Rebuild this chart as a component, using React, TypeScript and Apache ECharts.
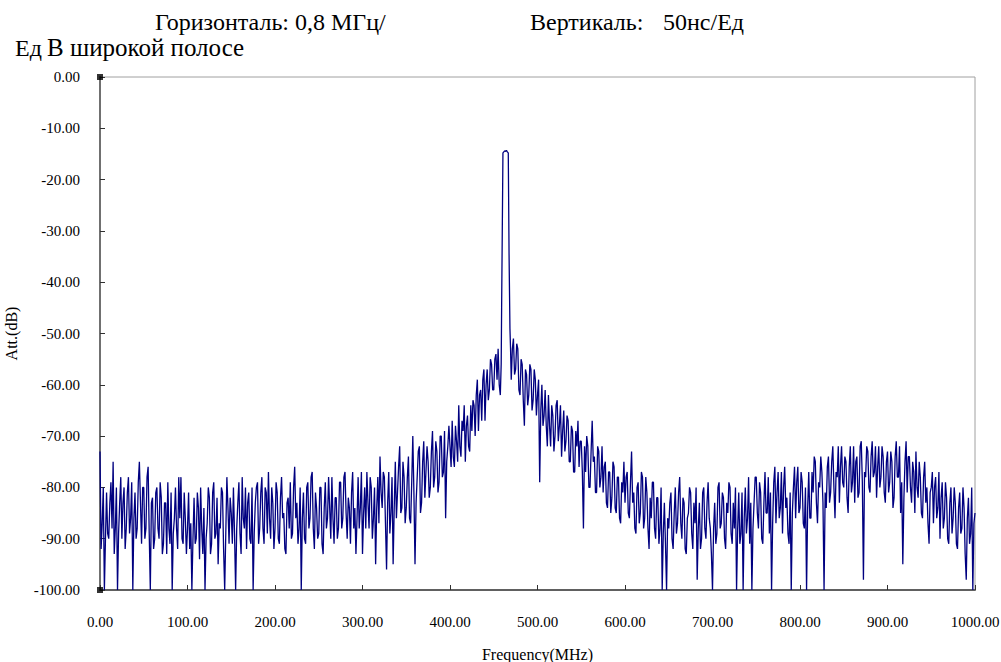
import React, { useEffect, useRef } from "react";
import * as echarts from "echarts";

// Tick values
const xTicks = [0, 100, 200, 300, 400, 500, 600, 700, 800, 900, 1000];
const yTicks = [0, -10, -20, -30, -40, -50, -60, -70, -80, -90, -100];

// Sampling grid (MHz)
const gridStep = 1.25;
const lowBandStart = 0;
const highBandStart = 470;

// Attenuation (dB), 0 .. 457.5 MHz, every 1.25 MHz (one line = 25 MHz)
const lowBandDb = [
  -73, -92, -87, -80, -100, -90, -81, -89, -90, -83, -79, -88, -75, -93, -88, -80, -100, -89, -83, -78,
  -90, -83, -80, -92, -88, -81, -78, -89, -86, -79, -100, -86, -81, -90, -88, -79, -75, -83, -91, -80,
  -80, -90, -88, -78, -76, -89, -100, -83, -82, -92, -90, -81, -80, -88, -90, -79, -82, -93, -91, -83,
  -83, -93, -79, -88, -91, -81, -100, -89, -86, -80, -88, -92, -78, -86, -78, -90, -91, -81, -86, -93,
  -88, -81, -92, -87, -100, -90, -82, -91, -90, -81, -84, -94, -80, -88, -93, -84, -100, -90, -87, -80,
  -82, -93, -91, -81, -79, -90, -89, -82, -95, -87, -88, -80, -81, -92, -100, -89, -78, -84, -91, -82,
  -85, -91, -80, -89, -100, -88, -83, -79, -89, -93, -78, -86, -88, -80, -92, -83, -81, -90, -91, -80,
  -100, -89, -83, -80, -79, -91, -88, -81, -78, -88, -91, -80, -81, -89, -77, -86, -90, -80, -83, -92,
  -88, -79, -81, -90, -91, -82, -78, -86, -85, -92, -93, -83, -82, -88, -79, -90, -89, -80, -76, -86,
  -83, -91, -88, -80, -100, -86, -81, -90, -91, -80, -79, -88, -86, -78, -77, -88, -92, -81, -84, -90,
  -89, -80, -80, -91, -93, -84, -79, -88, -86, -78, -84, -90, -78, -86, -91, -82, -82, -90, -88, -79,
  -79, -88, -86, -78, -77, -85, -90, -82, -84, -91, -81, -77, -88, -84, -93, -86, -78, -88, -84, -77,
  -93, -85, -80, -88, -77, -83, -88, -78, -80, -90, -86, -80, -95, -84, -78, -87, -74, -81, -84, -77,
  -78, -87, -96, -83, -77, -89, -85, -78, -95, -84, -75, -86, -81, -76, -72, -85, -84, -75, -78, -87,
  -84, -78, -74, -86, -87, -79, -70, -81, -95, -83, -78, -73, -72, -85, -83, -75, -71, -82, -77, -72,
  -75, -82, -80, -73, -69, -80, -78, -71, -73, -81, -79, -70, -70, -78, -77, -69, -86, -75, -72, -68,
  -72, -76, -67, -74, -76, -68, -71, -75, -64, -72, -74, -67, -69, -64, -75, -68, -66, -72, -73, -64,
  -69, -63, -64, -70, -62, -59, -69, -62, -61, -67, -59, -57, -67, -60, -57, -63, -61, -55, -56, -61,
  -61, -55, -54, -59, -53, -60, -62,
];

// Carrier peak (MHz, dB)
const peakFreqs = [458.5, 459.0, 459.7, 460.5, 461.5, 462.5, 463.5, 464.5, 465.5, 466.6, 467.5, 468.5, 469.2];
const peakDb = [-56, -45, -31, -14.8, -14.6, -14.4, -14.5, -14.3, -14.6, -14.8, -34.6, -49, -53];

// Attenuation (dB), 470 .. 1000 MHz, every 1.25 MHz
const highBandDb = [
  -59, -53, -51, -58, -57, -52, -53, -61, -62, -55, -56, -63, -68, -57, -58, -64, -62, -56, -57, -65, -63, -57, -59, -66,
  -62, -59, -79, -65, -60, -68, -66, -61, -68, -72, -62, -68, -72, -64, -66, -73, -70, -64, -63, -71,
  -68, -64, -74, -69, -65, -73, -71, -66, -67, -75, -75, -68, -69, -77, -77, -69, -72, -67, -76, -71,
  -71, -77, -88, -72, -77, -70, -72, -80, -80, -73, -67, -75, -74, -81, -81, -72, -73, -80, -78, -72,
  -81, -76, -75, -83, -84, -77, -77, -85, -82, -75, -76, -84, -85, -78, -78, -86, -87, -79, -81, -75,
  -83, -78, -77, -85, -86, -79, -73, -83, -81, -88, -89, -80, -79, -87, -85, -77, -78, -88, -86, -78,
  -81, -88, -92, -82, -86, -79, -79, -88, -90, -82, -82, -91, -88, -80, -100, -89, -83, -91, -100, -86,
  -88, -83, -81, -90, -92, -85, -80, -89, -87, -81, -78, -87, -90, -82, -83, -92, -93, -86, -85, -80,
  -81, -89, -92, -83, -87, -80, -98, -88, -83, -92, -90, -81, -80, -88, -90, -83, -79, -86, -88, -93,
  -100, -88, -83, -91, -89, -80, -79, -88, -87, -81, -82, -90, -92, -83, -85, -79, -80, -89, -91, -83,
  -88, -80, -100, -88, -81, -91, -89, -81, -100, -86, -80, -89, -86, -78, -91, -83, -100, -88, -83, -78,
  -78, -85, -88, -79, -81, -90, -91, -83, -77, -85, -85, -78, -89, -81, -100, -87, -79, -76, -87, -81,
  -77, -86, -84, -77, -89, -80, -76, -84, -82, -89, -91, -81, -100, -85, -80, -76, -86, -79, -76, -85,
  -84, -77, -79, -87, -88, -80, -100, -84, -77, -86, -86, -77, -81, -74, -75, -83, -87, -79, -80, -74,
  -77, -83, -100, -81, -84, -76, -74, -83, -81, -75, -72, -80, -86, -77, -78, -72, -83, -76, -72, -79,
  -80, -74, -75, -82, -85, -76, -72, -81, -79, -72, -83, -75, -74, -82, -81, -72, -71, -79, -98, -77,
  -78, -72, -73, -80, -81, -74, -71, -78, -77, -72, -82, -76, -72, -80, -78, -72, -74, -81, -83, -75,
  -73, -81, -79, -73, -75, -84, -82, -74, -71, -78, -78, -72, -85, -79, -95, -82, -75, -71, -81, -74,
  -74, -80, -83, -75, -77, -85, -73, -80, -82, -75, -78, -85, -86, -78, -75, -83, -80, -87, -91, -81,
  -80, -77, -87, -80, -78, -86, -84, -77, -90, -82, -79, -88, -86, -79, -82, -90, -91, -83, -80, -89,
  -86, -80, -83, -91, -92, -84, -81, -89, -88, -80, -84, -93, -98, -86, -82, -91, -89, -80, -100, -87,
  -85,
];

const titleLine1 = "Горизонталь: 0,8 МГц/";
const titleVert = "Вертикаль:";
const titleVertValue = "50нс/Ед";
const titleUnit = "Ед";
const titleLine2 = "В широкой полосе";

function buildSeries(): number[][] {
  const pts: number[][] = [];
  lowBandDb.forEach((v, i) => pts.push([lowBandStart + i * gridStep, v]));
  peakFreqs.forEach((f, i) => pts.push([f, peakDb[i]]));
  highBandDb.forEach((v, i) => pts.push([highBandStart + i * gridStep, v]));
  return pts;
}

const serif = "'Liberation Serif', 'Times New Roman', serif";

export default function App() {
  const ref = useRef<HTMLDivElement>(null);
  useEffect(() => {
    if (!ref.current) return;
    const chart = echarts.init(ref.current, undefined, { renderer: "svg" });
    chart.setOption({
      animation: false,
      backgroundColor: "#ffffff",
      grid: {
        left: 100,
        top: 77,
        width: 875,
        height: 513,
        show: true,
        borderColor: "#a0a0a0",
        borderWidth: 1,
        outerBoundsMode: "none",
        containLabel: false,
      },
      graphic: [
        { type: "text", left: 155, top: 10, style: { text: titleLine1, font: `24px ${serif}`, fill: "#000" } },
        { type: "text", left: 530, top: 10, style: { text: titleVert, font: `24px ${serif}`, fill: "#000" } },
        { type: "text", left: 663, top: 10, style: { text: titleVertValue, font: `24px ${serif}`, fill: "#000" } },
        { type: "text", left: 15, top: 36, style: { text: titleUnit, font: `24px ${serif}`, fill: "#000" } },
        { type: "text", left: 47, top: 35, style: { text: titleLine2, font: `25px ${serif}`, fill: "#000" } },
      ],
      xAxis: {
        type: "value",
        min: xTicks[0],
        max: xTicks[xTicks.length - 1],
        interval: 100,
        name: "Frequency(MHz)",
        nameLocation: "middle",
        nameGap: 56,
        nameTextStyle: { fontFamily: serif, fontSize: 16, color: "#000" },
        axisLine: { show: true, onZero: false, lineStyle: { color: "#606060", width: 2 } },
        axisTick: { show: true, inside: true, length: 5, lineStyle: { color: "#303030", width: 1 } },
        axisLabel: {
          margin: 24,
          fontFamily: serif,
          fontSize: 15,
          color: "#000",
          formatter: (v: number) => v.toFixed(2),
        },
        splitLine: { show: false },
      },
      yAxis: {
        type: "value",
        min: yTicks[yTicks.length - 1],
        max: yTicks[0],
        interval: 10,
        name: "Att.(dB)",
        nameLocation: "middle",
        nameRotate: 90,
        nameGap: 81,
        nameTextStyle: { fontFamily: serif, fontSize: 16, color: "#000" },
        axisLine: { show: true, onZero: false, lineStyle: { color: "#707070", width: 2 } },
        axisTick: { show: true, inside: true, length: 5, lineStyle: { color: "#303030", width: 1 } },
        axisLabel: {
          margin: 20,
          fontFamily: serif,
          fontSize: 15,
          color: "#000",
          formatter: (v: number) => v.toFixed(2),
        },
        splitLine: { show: false },
      },
      series: [
        {
          type: "line",
          data: buildSeries(),
          showSymbol: false,
          symbol: "none",
          lineStyle: { color: "#000080", width: 1.3 },
          clip: true,
          z: 3,
        },
        {
          type: "scatter",
          data: [[xTicks[0], yTicks[0]], [xTicks[0], yTicks[yTicks.length - 1]]],
          symbol: "rect",
          symbolSize: 6,
          itemStyle: { color: "#000" },
          clip: false,
          z: 5,
        },
      ],
    });
    return () => chart.dispose();
  }, []);
  return <div ref={ref} style={{ position: "absolute", left: 0, top: 0, width: 1001, height: 662 }} />;
}
